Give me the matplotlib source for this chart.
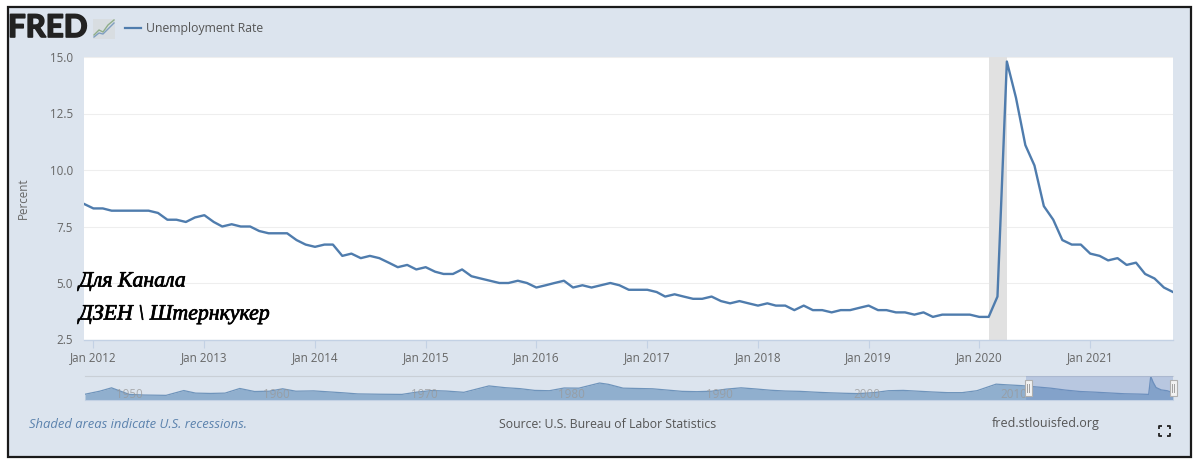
import matplotlib
matplotlib.use("Agg")
import matplotlib.pyplot as plt
import matplotlib.dates as mdates
import matplotlib.patheffects as pe
import pandas as pd
from matplotlib.patches import Rectangle

W, H = 1200, 463

rate = [8.5, 8.3, 8.3, 8.2, 8.2, 8.2, 8.2, 8.2, 8.1, 7.8, 7.8, 7.7, 7.9,
        8.0, 7.7, 7.5, 7.6, 7.5, 7.5, 7.3, 7.2, 7.2, 7.2, 6.9, 6.7,
        6.6, 6.7, 6.7, 6.2, 6.3, 6.1, 6.2, 6.1, 5.9, 5.7, 5.8, 5.6,
        5.7, 5.5, 5.4, 5.4, 5.6, 5.3, 5.2, 5.1, 5.0, 5.0, 5.1, 5.0,
        4.8, 4.9, 5.0, 5.1, 4.8, 4.9, 4.8, 4.9, 5.0, 4.9, 4.7, 4.7,
        4.7, 4.6, 4.4, 4.5, 4.4, 4.3, 4.3, 4.4, 4.2, 4.1, 4.2, 4.1,
        4.0, 4.1, 4.0, 4.0, 3.8, 4.0, 3.8, 3.8, 3.7, 3.8, 3.8, 3.9,
        4.0, 3.8, 3.8, 3.7, 3.7, 3.6, 3.7, 3.5, 3.6, 3.6, 3.6, 3.6,
        3.5, 3.5, 4.4, 14.8, 13.2, 11.1, 10.2, 8.4, 7.8, 6.9, 6.7, 6.7,
        6.3, 6.2, 6.0, 6.1, 5.8, 5.9, 5.4, 5.2, 4.8, 4.6]
dates = pd.date_range("2011-12-01", periods=len(rate), freq="MS")

recession = ("2020-02-01", "2020-04-01")
y_ticks = [2.5, 5.0, 7.5, 10.0, 12.5, 15.0]
x_tick_years = list(range(2012, 2022))

nav_years = [1948, 1949, 1949.8, 1951, 1952, 1953.5, 1954.7, 1955.5, 1956.5, 1957.5,
             1958.5, 1959.5, 1960.5, 1961.4, 1962.3, 1963.5, 1964.5, 1965.5, 1966.5,
             1968, 1969.5, 1970.5, 1971.5, 1972.5, 1973.7, 1975.4, 1976.5, 1977.5,
             1978.5, 1979.5, 1980.5, 1981.5, 1982.9, 1983.5, 1984.5, 1985.5, 1986.5,
             1987.5, 1988.5, 1989.5, 1990.5, 1991.5, 1992.5, 1993.5, 1994.5, 1995.5,
             1996.5, 1997.5, 1998.5, 1999.5, 2000.5, 2001.5, 2002.5, 2003.5, 2004.5,
             2005.5, 2006.5, 2007.5, 2008.5, 2009.8, 2010.5, 2011.5, 2012.5, 2013.5,
             2014.5, 2015.5, 2016.5, 2017.5, 2018.5, 2019.5, 2020.15, 2020.29, 2020.45,
             2020.65, 2021.0, 2021.4, 2021.8]
nav_rate = [3.6, 5.5, 7.6, 3.5, 3.1, 2.9, 5.9, 4.3, 4.1, 4.3, 7.2, 5.3, 5.5, 7.0, 5.5,
            5.7, 5.1, 4.5, 3.8, 3.6, 3.5, 4.9, 5.9, 5.6, 4.8, 8.8, 7.7, 7.1, 6.0, 5.8,
            7.5, 7.4, 10.6, 9.8, 7.4, 7.2, 7.0, 6.2, 5.4, 5.2, 5.5, 6.8, 7.6, 6.9, 6.1,
            5.6, 5.4, 4.9, 4.5, 4.2, 4.0, 4.6, 5.8, 6.0, 5.5, 5.0, 4.6, 4.6, 5.8, 9.9,
            9.5, 9.0, 8.2, 7.4, 6.2, 5.3, 4.9, 4.4, 3.9, 3.7, 3.5, 14.8, 11.1, 7.8,
            6.3, 5.8, 4.6]
nav_labels = [1950, 1960, 1970, 1980, 1990, 2000, 2010]

panel = "#dce4ee"
grey = "#666666"
blue = "#4f7cad"

fig = plt.figure(figsize=(W / 100, H / 100), dpi=100, facecolor="white")
plt.rcParams["font.family"] = ["Open Sans", "DejaVu Sans"]


def box(x0, y0, x1, y1):
    # pixel box (y from the top) to figure fractions
    return [x0 / W, 1 - y1 / H, (x1 - x0) / W, (y1 - y0) / H]


# page in pixel coordinates
page = fig.add_axes([0, 0, 1, 1], zorder=0)
page.set_xlim(0, W)
page.set_ylim(H, 0)
page.axis("off")
page.add_patch(Rectangle((8, 6.5), 1183, 450, facecolor=panel, edgecolor="#1a1a1a", linewidth=1.6))

logo = page.text(8, 28, "FRED", fontsize=22.5, fontweight="bold", family="Lato", color="#222222",
                 va="center", ha="left")
logo.set_path_effects([pe.withStroke(linewidth=1.2, foreground="#222222")])
page.add_patch(Rectangle((93, 19), 22, 20, facecolor="#d8dde1", edgecolor="none"))
page.plot([94, 99, 103, 108, 114], [35, 30, 32, 25, 20], color="#8fae8a", lw=1)
page.plot([94, 99, 103, 108, 114], [37, 33, 34, 29, 23], color="#7f9fc0", lw=1)
page.plot([125, 141], [28, 28], color=blue, lw=1.6)
page.text(146, 28.5, "Unemployment Rate", fontsize=8.8, color="#555555", va="center", ha="left")

page.text(29, 424, "Shaded areas indicate U.S. recessions.", fontsize=9.4, style="italic",
          color="#5b82ad", va="center", ha="left")
page.text(499, 424, "Source: U.S. Bureau of Labor Statistics", fontsize=8.85, color="#555555",
          va="center", ha="left")
page.text(992, 424, "fred.stlouisfed.org", fontsize=9.0, color="#555555", va="center", ha="left")

# fullscreen icon
for cx, sx in ((1159, 1), (1170, -1)):
    for cy, sy in ((426, 1), (436, -1)):
        page.plot([cx, cx, cx + 3 * sx], [cy + 3 * sy, cy, cy], color="#222222", lw=1.3,
                  solid_capstyle="butt")

# main chart
ax = fig.add_axes(box(84, 57, 1173, 339.5), zorder=1)
ax.set_facecolor("white")
ax.plot(dates, rate, color=blue, lw=1.7, zorder=3, solid_joinstyle="round")
ax.axvspan(pd.Timestamp(recession[0]), pd.Timestamp(recession[1]), color="#e1e1e1", lw=0, zorder=1)
ax.set_xlim(dates[0], dates[-1])
ax.set_ylim(2.5, 15)
ax.set_yticks(y_ticks)
ax.set_yticklabels([f"{v:.1f}" for v in y_ticks])
ax.set_xticks([pd.Timestamp(f"{y}-01-01") for y in x_tick_years])
ax.xaxis.set_major_formatter(mdates.DateFormatter("Jan %Y"))
ax.grid(axis="y", color="#eeeeee", lw=0.8, zorder=0)
ax.set_axisbelow(True)
for side in ("top", "left", "right"):
    ax.spines[side].set_visible(False)
ax.spines["bottom"].set_color("#c3d1e4")
ax.spines["bottom"].set_linewidth(1)
ax.tick_params(axis="y", length=0, pad=8, labelsize=8.4, labelcolor=grey)
ax.tick_params(axis="x", length=6, width=0.8, color="#c3d1e4", pad=2, labelsize=8.4, labelcolor=grey)
ax.set_ylabel("Percent", fontsize=8.4, color=grey, labelpad=14)

# navigator
nav = fig.add_axes(box(85, 376, 1173, 400), zorder=1)
nav.patch.set_alpha(0)
nav.fill_between(nav_years, nav_rate, 0, color="#90afce", lw=0, zorder=1)
nav.plot(nav_years, nav_rate, color="#6f94bb", lw=0.9, zorder=2)
nav.set_xlim(1948, 2021.8)
nav.set_ylim(0, 15)
nav.set_xticks([])
nav.set_yticks([])
for side in ("left", "right"):
    nav.spines[side].set_visible(False)
nav.spines["top"].set_color("#c9cfd6")
nav.spines["bottom"].set_color("#c3d1e4")
for year in nav_labels:
    nav.text(year + 0.1, 3.2, str(year), fontsize=8.4, color="#999999", alpha=0.75, va="center", ha="left", zorder=3)
nav.axvspan(2011.85, 2021.8, color="#6685c2", alpha=0.3, lw=0, zorder=4)

for x in (1028, 1173):
    handle = Rectangle((x - 3.5, 380), 7, 16, facecolor="#f2f2f2", edgecolor="#b0b0b0", lw=0.8,
                       zorder=5, transform=page.transData, clip_on=False)
    fig.add_artist(handle)
    for dx in (-1, 1):
        fig.add_artist(plt.Line2D([x + dx, x + dx], [384, 392], color="#a0a0a0", lw=0.7, zorder=6,
                                  transform=page.transData))

# watermark
marks = [pe.withStroke(linewidth=0.5, foreground="black")]
fig.text(79 / W, 1 - 282 / H, "Для Канала", fontsize=15.7, family="Liberation Serif", style="italic",
         color="black", va="center", ha="left", zorder=10, path_effects=marks)
fig.text(79 / W, 1 - 315 / H, "ДЗЕН \\ Штернкукер", fontsize=15.7, family="Liberation Serif", style="italic",
         color="black", va="center", ha="left", zorder=10, path_effects=marks)

fig.savefig("out.png", dpi=100)
